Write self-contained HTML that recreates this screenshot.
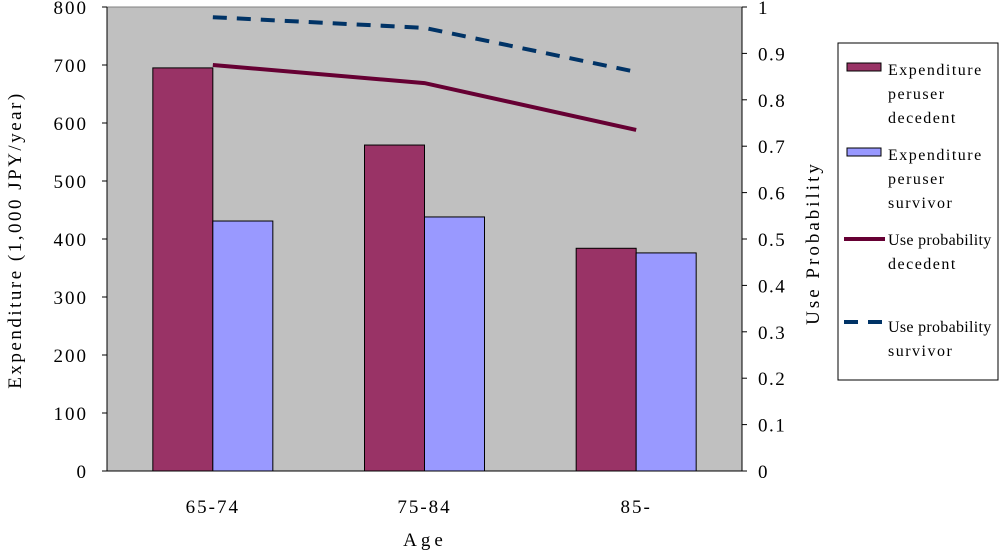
<!DOCTYPE html>
<html><head><meta charset="utf-8"><style>
html,body{margin:0;padding:0;background:#fff;width:1000px;height:550px;overflow:hidden}
text{font-family:"Liberation Serif","Noto Serif CJK SC",serif;fill:#000}
</style></head><body>
<svg id="chart" width="1000" height="550" xmlns="http://www.w3.org/2000/svg"></svg>
<script>
const categories=["65-74","75-84","85-"];
const expDecedent=[695,562,384];
const expSurvivor=[431,438,376];
const probDecedent=[0.875,0.836,0.735];
const probSurvivor=[0.978,0.955,0.86];
const leftTicks=[0,100,200,300,400,500,600,700,800];
const rightTicks=["0","0.1","0.2","0.3","0.4","0.5","0.6","0.7","0.8","0.9","1"];

const svg=document.getElementById('chart');
const NS="http://www.w3.org/2000/svg";
const X0=107,X1=742,Y0=471,Y1=7;
const yL=v=>Y0-(v/800)*(Y0-Y1);
const yR=v=>Y0-v*(Y0-Y1);
const bandW=(X1-X0)/categories.length;
const xC=i=>X0+bandW*(i+0.5);
function mk(tag,attrs,parent){const e=document.createElementNS(NS,tag);for(const k in attrs)e.setAttribute(k,attrs[k]);(parent||svg).appendChild(e);return e;}

const plot=mk('rect',{x:X0,y:Y1,width:X1-X0,height:Y0-Y1,fill:'#c0c0c0',stroke:'#808080'});



const bw=60;
categories.forEach((c,i)=>{
  const b1=mk('rect',{x:xC(i)-bw,y:yL(expDecedent[i]),width:bw,height:Y0-yL(expDecedent[i]),fill:'#993366',stroke:'#000','stroke-width':1});
  
  
  const b2=mk('rect',{x:xC(i),y:yL(expSurvivor[i]),width:bw,height:Y0-yL(expSurvivor[i]),fill:'#9999ff',stroke:'#000','stroke-width':1});
  
  
  const t=mk('text',{x:xC(i),y:513,'text-anchor':'middle','font-size':19,'letter-spacing':2});
  t.textContent=c;
  
  
});

const l1=mk('polyline',{points:probDecedent.map((v,i)=>xC(i)+','+yR(v)).join(' '),fill:'none',stroke:'#660033','stroke-width':4});


const l2=mk('polyline',{points:probSurvivor.map((v,i)=>xC(i)+','+yR(v)).join(' '),fill:'none',stroke:'#003366','stroke-width':4,'stroke-dasharray':'14,10'});



mk('line',{x1:X0,y1:Y1,x2:X0,y2:Y0,stroke:'#000'});
mk('line',{x1:X1,y1:Y1,x2:X1,y2:Y0,stroke:'#000'});
mk('line',{x1:X0,y1:Y0,x2:X1,y2:Y0,stroke:'#000'});
leftTicks.forEach(v=>{
  mk('line',{x1:X0-5,y1:yL(v),x2:X0,y2:yL(v),stroke:'#000'});
  const t=mk('text',{x:88,y:yL(v)+7,'text-anchor':'end','font-size':19,'letter-spacing':2});
  t.textContent=v;
  
  
});
rightTicks.forEach((v,i)=>{
  mk('line',{x1:X1,y1:yR(i/10),x2:X1+5,y2:yR(i/10),stroke:'#000'});
  const t=mk('text',{x:758,y:yR(i/10)+7,'text-anchor':'start','font-size':19,'letter-spacing':1.5});
  t.textContent=v;
  
  
});

const ax=mk('text',{x:425,y:546,'text-anchor':'middle','font-size':19,'letter-spacing':4});
ax.textContent='Age';


const yl=mk('text',{x:0,y:0,'text-anchor':'middle','font-size':19,'letter-spacing':2.5,transform:'translate(21,240) rotate(-90)'});
yl.textContent='Expenditure (1,000 JPY/year)';


const yr=mk('text',{x:0,y:0,'text-anchor':'middle','font-size':19,'letter-spacing':3,transform:'translate(819,243) rotate(-90)'});
yr.textContent='Use Probability';



const lg=mk('rect',{x:838,y:43,width:160,height:337,fill:'#fff',stroke:'#000'});


function legText(lines,y){lines.forEach((s,k)=>{const t=mk('text',{x:888,y:y+k*24,'font-size':16,'letter-spacing':s.length>12?0.3:1.5});t.textContent=s;});}
const s1=mk('rect',{x:847,y:63,width:34,height:8,fill:'#993366',stroke:'#000'});

legText(['Expenditure','peruser','decedent'],75);
const s2=mk('rect',{x:847,y:148,width:34,height:8,fill:'#9999ff',stroke:'#000'});

legText(['Expenditure','peruser','survivor'],160);
const s3=mk('line',{x1:844,y1:239,x2:885,y2:239,stroke:'#660033','stroke-width':4});

legText(['Use probability','decedent'],245);
const s4=mk('line',{x1:844,y1:322,x2:885,y2:322,stroke:'#003366','stroke-width':4,'stroke-dasharray':'14,10'});

legText(['Use probability','survivor'],332);
</script>
</body></html>
